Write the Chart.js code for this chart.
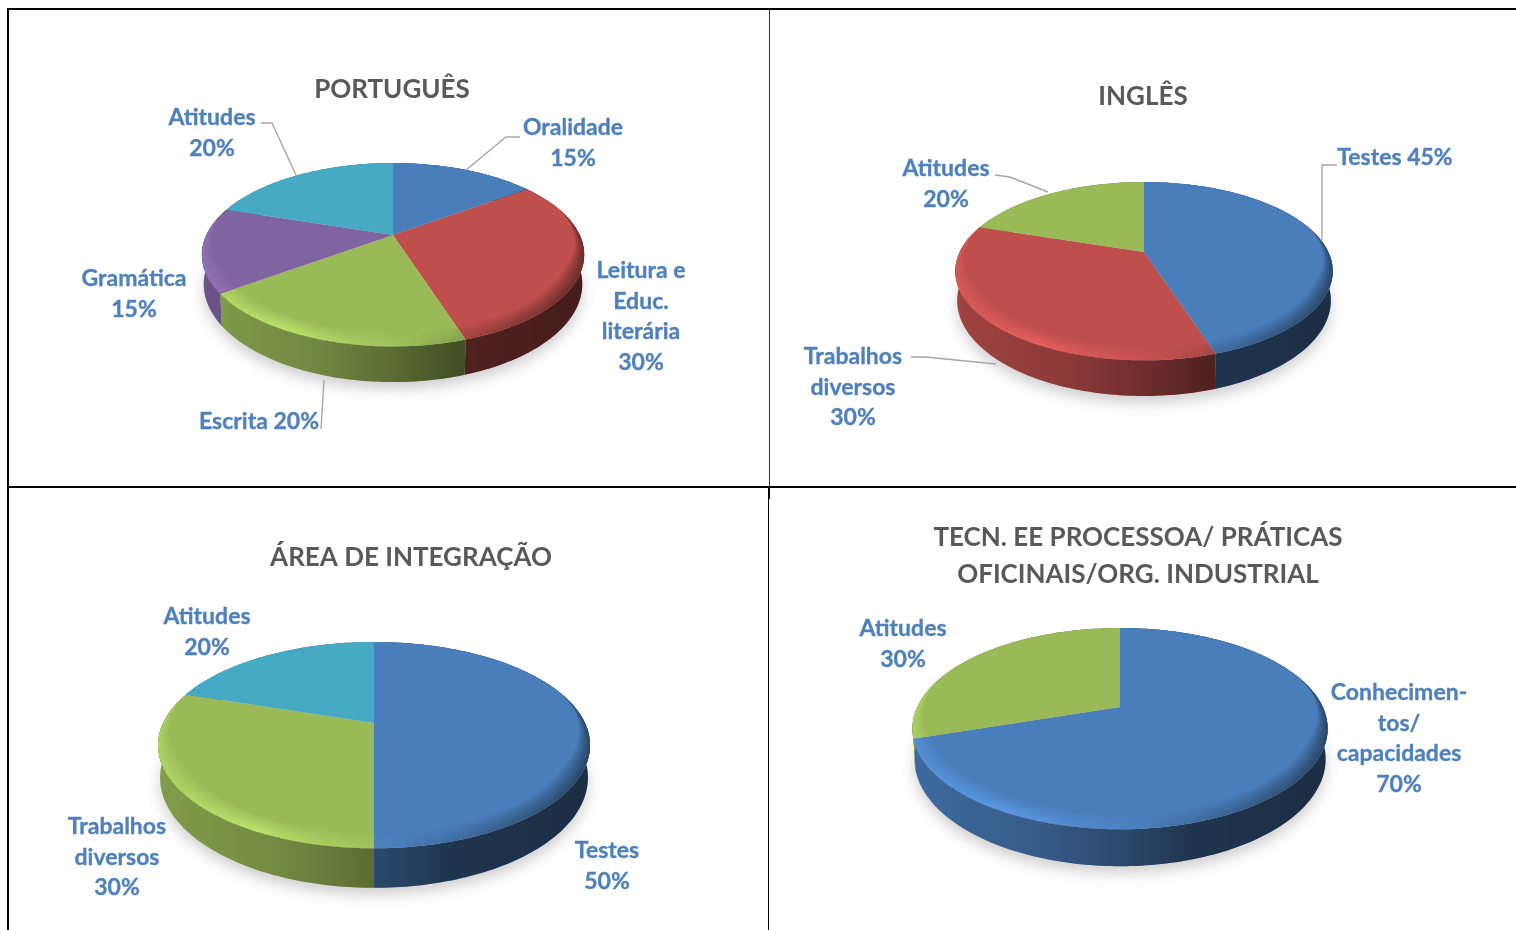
<!DOCTYPE html>
<html>
<head>
<meta charset="utf-8">
<title>Avaliação</title>
<script src="https://cdn.jsdelivr.net/npm/chart.js@4"></script>
<style>
    html, body { margin: 0; padding: 0; background: #fff; overflow: hidden; }
    #page { position: relative; width: 1516px; height: 930px; overflow: hidden; }
    #page canvas { position: absolute; }
    .rule { position: absolute; background: #000; }
</style>
</head>
<body>
<div id="page">
    <div class="rule" style="left:8px;top:8px;width:1508px;height:2px"></div>
    <div class="rule" style="left:7px;top:8px;width:2px;height:922px"></div>
    <div class="rule" style="left:8px;top:486px;width:1508px;height:2px"></div>
    <div class="rule" style="left:769px;top:9px;width:1px;height:478px;background:#333"></div>
    <div class="rule" style="left:768px;top:487px;width:2px;height:12px"></div>
    <div class="rule" style="left:768px;top:498px;width:1px;height:432px"></div>
</div>
<script>
// slice values
const portuguesValues = [15, 30, 20, 15, 20];
const inglesValues = [45, 35, 20];
const areaValues = [50, 30, 20];
const tecnValues = [70, 30];

const portuguesCategories = ['Oralidade', 'Leitura e Educ. literária', 'Escrita', 'Gramática', 'Atitudes'];
const inglesCategories = ['Testes', 'Trabalhos diversos', 'Atitudes'];
const areaCategories = ['Testes', 'Trabalhos diversos', 'Atitudes'];
const tecnCategories = ['Conhecimentos/capacidades', 'Atitudes'];

const blue = '#4a7ebb', red = '#be4f4c', green = '#9aba58', purple = '#8063a1', teal = '#46aac5';

const portuguesColors = [blue, red, green, purple, teal];
const inglesColors = [blue, red, green];
const areaColors = [blue, green, teal];
const tecnColors = [blue, green];

// label text as printed in the picture: [centre x, centre y of first line, lines]
const portuguesLabels = [
    [573, 128, ['Oralidade', '15%']],
    [641, 271, ['Leitura e', 'Educ.', 'literária', '30%']],
    [259, 422, ['Escrita 20%']],
    [134, 279, ['Gramática', '15%']],
    [212, 118, ['Atitudes', '20%']]
];
const inglesLabels = [
    [1395, 158, ['Testes 45%']],
    [853, 357, ['Trabalhos', 'diversos', '30%']],
    [946, 169, ['Atitudes', '20%']]
];
const areaLabels = [
    [607, 851, ['Testes', '50%']],
    [117, 827, ['Trabalhos', 'diversos', '30%']],
    [207, 617, ['Atitudes', '20%']]
];
const tecnLabels = [
    [1399, 693, ['Conhecimen-', 'tos/', 'capacidades', '70%']],
    [903, 629, ['Atitudes', '30%']]
];

const portuguesLeaders = [
    [[520, 137], [506, 137], [466, 170]],
    [[261, 123], [272, 123], [296, 175]],
    [[321, 429], [324, 380]]
];
const inglesLeaders = [
    [[1337, 165], [1322, 165], [1322, 240]],
    [[995, 175], [1010, 177], [1048, 192]],
    [[911, 357], [925, 357], [996, 364]]
];

const PERSPECTIVE = 0.215;
const WIDTH = 740;

function rgb(hex) {
    return [1, 3, 5].map(i => parseInt(hex.slice(i, i + 2), 16));
}

function clamp(x) {
    return Math.max(0, Math.min(1, x));
}

// circle in the pie plane -> screen, f is the radius fraction
function project(g, angle, f) {
    let u = Math.cos(angle) * f;
    let v = Math.sin(angle) * f;
    let s = 1 / (1 - PERSPECTIVE * v);
    return [g.cx + g.rx * u * s, g.cy + g.ry * v * s, s];
}

function angles(start, end) {
    let list = [];
    let n = Math.max(2, Math.ceil((end - start) / 0.02));
    for (let i = 0; i <= n; i++) {
        list.push(start + (end - start) * i / n);
    }
    return list;
}

function polygon(ctx, points) {
    ctx.beginPath();
    points.forEach((p, i) => i ? ctx.lineTo(p[0], p[1]) : ctx.moveTo(p[0], p[1]));
    ctx.closePath();
}

function bottomRim(g, angle) {
    let p = project(g, angle, 1);
    return [g.cx + (p[0] - g.cx) * 0.99, p[1] + g.depth * p[2]];
}

function sideGradient(ctx, g, stops) {
    let grad = ctx.createLinearGradient(g.cx - g.rx * 1.02, 0, g.cx + g.rx * 1.02, 0);
    stops.forEach(s => grad.addColorStop((s[0] + 1) / 2, s[1]));
    return grad;
}

function bevelInset(angle) {
    let v = Math.sin(angle);
    return 0.1 * clamp((v + 0.3) / 0.7) * (0.7 + 0.3 * Math.max(v, 0));
}

function drawBevel(ctx, g, color) {
    let base = rgb(color);
    let glow = a => `rgba(${base[0]},${base[1]},${base[2]},${a})`;
    let light = sideGradient(ctx, g, [[-1, glow(0.02)], [-0.55, glow(0.036)], [-0.2, glow(0.016)], [0.15, glow(0)], [1, glow(0)]]);
    let dark = sideGradient(ctx, g, [[0.1, 'rgba(0,0,0,0)'], [0.35, 'rgba(0,0,0,0.025)'], [0.7, 'rgba(0,0,0,0.06)'], [1, 'rgba(0,0,0,0.09)']]);
    let rim = angles(-0.35, Math.PI + 0.35);
    let steps = 6;
    for (let i = 1; i <= steps; i++) {
        let ring = rim.map(a => project(g, a, 1.005));
        rim.slice().reverse().forEach(a => ring.push(project(g, a, 1 - bevelInset(a) * i / steps)));
        polygon(ctx, ring);
        ctx.globalCompositeOperation = 'lighter';
        ctx.fillStyle = light;
        ctx.fill();
        ctx.globalCompositeOperation = 'source-over';
        ctx.fillStyle = dark;
        ctx.fill();
    }
}

const pie3d = {
    id: 'pie3d',
    beforeDatasetsDraw(chart, args, opts) {
        let ctx = chart.ctx;
        let arcs = chart.getDatasetMeta(0).data;
        let g = {
            cx: arcs[0].x + opts.shiftX,
            cy: arcs[0].y,
            rx: arcs[0].outerRadius * 2,
            ry: opts.rise * (1 + PERSPECTIVE),
            depth: opts.depth
        };
        let colors = chart.data.datasets[0].backgroundColor;

        // soft shadow under the disc
        ctx.save();
        ctx.filter = 'blur(7px)';
        ctx.fillStyle = 'rgba(0,0,0,0.19)';
        polygon(ctx, angles(0, Math.PI * 2).map(a => {
            let p = bottomRim(g, a);
            return [p[0], p[1] + 7];
        }));
        ctx.fill();
        ctx.restore();

        // side walls
        arcs.forEach((arc, i) => {
            let list = angles(arc.startAngle, arc.endAngle);
            let wall = list.map(a => project(g, a, 1));
            list.slice().reverse().forEach(a => wall.push(bottomRim(g, a)));
            polygon(ctx, wall);
            ctx.fillStyle = colors[i];
            ctx.fill();
            ctx.fillStyle = sideGradient(ctx, g, [[-1, 'rgba(0,0,0,0.16)'], [-0.4, 'rgba(0,0,0,0.27)'], [0, 'rgba(0,0,0,0.42)'],
                [0.35, 'rgba(0,0,0,0.58)'], [1, 'rgba(0,0,0,0.64)']]);
            ctx.fill();
        });

        // top surface, one wedge per arc element
        arcs.forEach((arc, i) => {
            let wedge = angles(arc.startAngle, arc.endAngle).map(a => project(g, a, 1));
            wedge.push([g.cx, g.cy]);
            ctx.save();
            polygon(ctx, wedge);
            ctx.fillStyle = colors[i];
            ctx.fill();
            ctx.clip();
            drawBevel(ctx, g, colors[i]);
            ctx.restore();
        });
        return false;
    },
    afterDraw(chart, args, opts) {
        let ctx = chart.ctx;
        let box = chart.canvas.getBoundingClientRect();
        ctx.save();
        ctx.translate(-box.left, -box.top);

        ctx.strokeStyle = '#a6a6a6';
        ctx.lineWidth = 1.4;
        opts.leaders.forEach(line => {
            ctx.beginPath();
            line.forEach((p, i) => i ? ctx.lineTo(p[0], p[1]) : ctx.moveTo(p[0], p[1]));
            ctx.stroke();
        });

        ctx.fillStyle = '#4f81bd';
        ctx.strokeStyle = '#4f81bd';
        ctx.lineWidth = 0.35;
        ctx.font = 'bold 23px Lato';
        ctx.textAlign = 'center';
        ctx.textBaseline = 'middle';
        opts.labels.forEach(label => {
            label[2].forEach((text, i) => {
                ctx.fillText(text, label[0], label[1] + i * 30.5);
                ctx.strokeText(text, label[0], label[1] + i * 30.5);
            });
        });
        ctx.restore();
    }
};

// title centre x, canvas top/height, pie centre, plane radius, rise above centre, wall depth
function makePie(cfg) {
    let canvas = document.createElement('canvas');
    let left = cfg.titleX - WIDTH / 2;
    canvas.width = WIDTH;
    canvas.height = cfg.height;
    canvas.style.left = left + 'px';
    canvas.style.top = cfg.top + 'px';
    canvas.style.width = WIDTH + 'px';
    canvas.style.height = cfg.height + 'px';
    document.getElementById('page').appendChild(canvas);

    let R = cfg.rx / 2;
    let lines = Array.isArray(cfg.title) ? cfg.title.length : 1;
    let titleFont = { family: 'Lato', size: 26, weight: 'bold', lineHeight: 37 / 26 };
    let padTop = cfg.titleY - 18.5 - cfg.top;
    let areaTop = cfg.cy - R - cfg.top;

    new Chart(canvas, {
        type: 'pie',
        data: {
            labels: cfg.categories,
            datasets: [{ data: cfg.values, backgroundColor: cfg.colors, borderWidth: 0 }]
        },
        plugins: [pie3d],
        options: {
            responsive: false,
            animation: false,
            events: [],
            layout: { padding: { top: padTop, bottom: cfg.height - (cfg.cy + R - cfg.top), left: 0, right: 0 } },
            plugins: {
                legend: { display: false },
                tooltip: { enabled: false },
                title: {
                    display: true,
                    text: cfg.title,
                    color: '#595959',
                    font: titleFont,
                    padding: { top: 0, bottom: areaTop - padTop - lines * 37 }
                },
                pie3d: {
                    shiftX: cfg.cx - cfg.titleX,
                    rise: cfg.rise,
                    depth: cfg.depth,
                    labels: cfg.labels,
                    leaders: cfg.leaders
                }
            }
        }
    });
}

makePie({
    title: 'PORTUGUÊS', titleX: 392, titleY: 90, top: 10, height: 476,
    categories: portuguesCategories, values: portuguesValues, colors: portuguesColors,
    labels: portuguesLabels, leaders: portuguesLeaders,
    cx: 393, cy: 235, rx: 186.7, rise: 72, depth: 28
});
makePie({
    title: 'INGLÊS', titleX: 1143, titleY: 97, top: 10, height: 476,
    categories: inglesCategories, values: inglesValues, colors: inglesColors,
    labels: inglesLabels, leaders: inglesLeaders,
    cx: 1144, cy: 252, rx: 184.3, rise: 70, depth: 28
});
makePie({
    title: 'ÁREA DE INTEGRAÇÃO', titleX: 411, titleY: 558, top: 489, height: 441,
    categories: areaCategories, values: areaValues, colors: areaColors,
    labels: areaLabels, leaders: [],
    cx: 374, cy: 723, rx: 211, rise: 81, depth: 31
});
makePie({
    title: ['TECN. EE PROCESSOA/ PRÁTICAS', 'OFICINAIS/ORG. INDUSTRIAL'], titleX: 1138, titleY: 538, top: 489, height: 441,
    categories: tecnCategories, values: tecnValues, colors: tecnColors,
    labels: tecnLabels, leaders: [],
    cx: 1120, cy: 707, rx: 202.8, rise: 79, depth: 29
});
</script>
</body>
</html>
